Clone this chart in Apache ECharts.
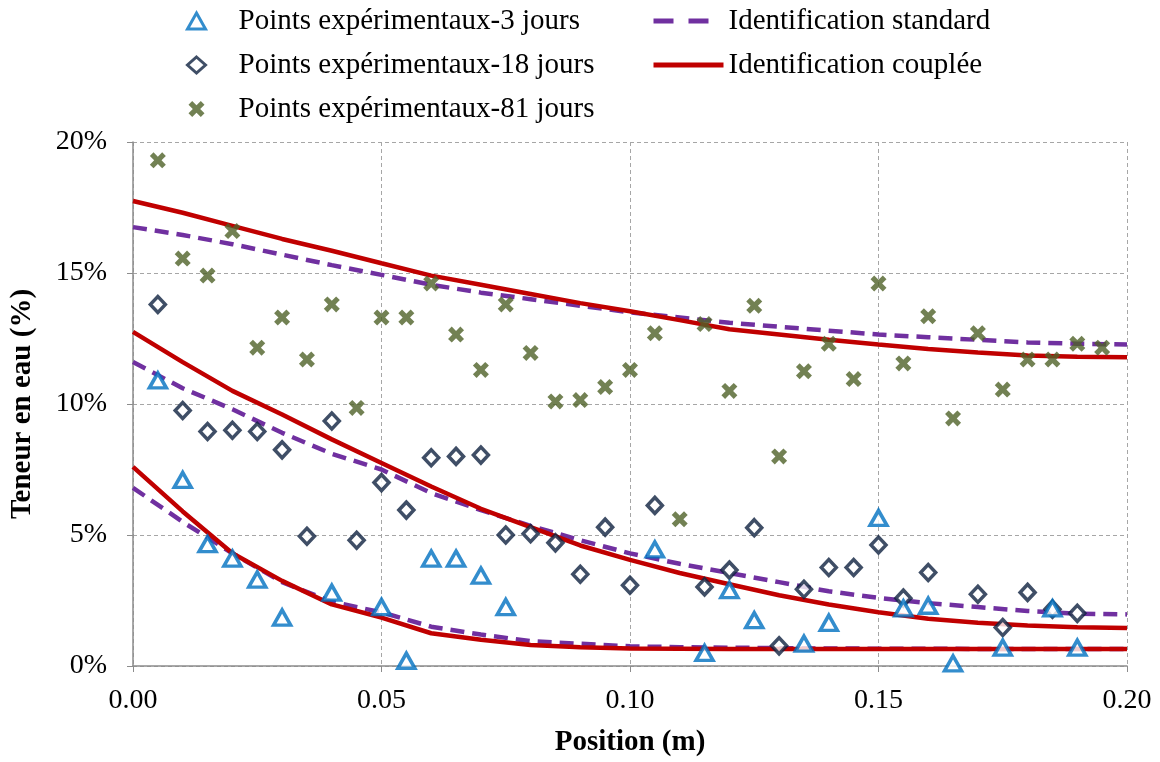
<!DOCTYPE html>
<html>
<head>
<meta charset="utf-8">
<script src="https://cdn.jsdelivr.net/npm/echarts@6/dist/echarts.min.js"></script>
<style>
  html, body { margin: 0; padding: 0; background: #fff; }
  #chart { width: 1160px; height: 762px; }
</style>
</head>
<body>
<div id="chart"></div>
<script>
// === DONNÉES ===
const pos3 = [0.005, 0.01, 0.015, 0.02, 0.025, 0.03, 0.04, 0.05, 0.055, 0.06, 0.065, 0.07, 0.075,
  0.105, 0.115, 0.12, 0.125, 0.135, 0.14, 0.15, 0.155, 0.16, 0.165, 0.175, 0.185, 0.19];
const val3 = [10.9, 7.1, 4.65, 4.1, 3.3, 1.85, 2.8, 2.25, 0.2, 4.1, 4.1, 3.45, 2.25,
  4.45, 0.5, 2.9, 1.75, 0.85, 1.65, 5.65, 2.2, 2.3, 0.1, 0.7, 2.2, 0.7];

const pos18 = [0.005, 0.01, 0.015, 0.02, 0.025, 0.03, 0.035, 0.04, 0.045, 0.05, 0.055, 0.06, 0.065,
  0.07, 0.075, 0.08, 0.085, 0.09, 0.095, 0.10, 0.105, 0.115, 0.12, 0.125, 0.13, 0.135, 0.14,
  0.145, 0.15, 0.155, 0.16, 0.17, 0.175, 0.18, 0.185, 0.19];
const val18 = [13.8, 9.75, 8.95, 9.0, 8.95, 8.25, 4.95, 9.35, 4.8, 7.0, 5.95, 7.95, 8.0,
  8.05, 5.0, 5.05, 4.7, 3.5, 5.3, 3.08, 6.13, 3.02, 3.66, 5.28, 0.77, 2.93, 3.76,
  3.76, 4.62, 2.59, 3.57, 2.74, 1.47, 2.81, 2.17, 2.01];

const pos81 = [0.005, 0.01, 0.015, 0.02, 0.025, 0.03, 0.035, 0.04, 0.045, 0.05, 0.055, 0.06, 0.065,
  0.07, 0.075, 0.08, 0.085, 0.09, 0.095, 0.10, 0.105, 0.11, 0.115, 0.12, 0.125, 0.13,
  0.135, 0.14, 0.145, 0.15, 0.155, 0.16, 0.165, 0.17, 0.175, 0.18, 0.185, 0.19, 0.195];
const val81 = [19.3, 15.55, 14.9, 16.6, 12.15, 13.3, 11.7, 13.8, 9.85, 13.3, 13.3, 14.6, 12.65,
  11.3, 13.8, 11.95, 10.1, 10.15, 10.65, 11.3, 12.7, 5.6, 13.05, 10.5, 13.75, 8.0,
  11.25, 12.3, 10.95, 14.6, 11.55, 13.35, 9.45, 12.7, 10.55, 11.7, 11.7, 12.3, 12.15];

// courbes identifiées
const lineX = [0, 0.01, 0.02, 0.03, 0.04, 0.05, 0.06, 0.07, 0.08, 0.09, 0.10,
  0.11, 0.12, 0.13, 0.14, 0.15, 0.16, 0.17, 0.18, 0.19, 0.20];
const std3 = [6.8, 5.5, 4.3, 3.2, 2.45, 2.05, 1.5, 1.2, 0.95, 0.85, 0.75, 0.72, 0.7, 0.68, 0.67, 0.66, 0.66, 0.65, 0.65, 0.65, 0.65];
const cpl3 = [7.6, 5.9, 4.3, 3.25, 2.35, 1.85, 1.25, 1.0, 0.8, 0.72, 0.67, 0.66, 0.65, 0.65, 0.65, 0.65, 0.65, 0.65, 0.65, 0.65, 0.65];
const std18 = [11.6, 10.6, 9.8, 8.9, 8.1, 7.5, 6.6, 5.95, 5.35, 4.8, 4.3, 3.9, 3.55, 3.2, 2.85, 2.6, 2.4, 2.25, 2.1, 2.0, 1.97];
const cpl18 = [12.75, 11.6, 10.5, 9.6, 8.65, 7.75, 6.85, 6.0, 5.3, 4.6, 4.05, 3.55, 3.12, 2.7, 2.35, 2.05, 1.8, 1.65, 1.55, 1.48, 1.45];
const std81 = [16.75, 16.45, 16.1, 15.7, 15.3, 14.93, 14.55, 14.25, 14.0, 13.75, 13.5, 13.3, 13.1, 12.95, 12.8, 12.65, 12.55, 12.45, 12.35, 12.3, 12.27];
const cpl81 = [17.75, 17.3, 16.8, 16.3, 15.85, 15.37, 14.9, 14.55, 14.2, 13.85, 13.54, 13.2, 12.85, 12.65, 12.45, 12.27, 12.1, 11.97, 11.85, 11.8, 11.78];

const names = {
  p3: 'Points expérimentaux-3 jours',
  p18: 'Points expérimentaux-18 jours',
  p81: 'Points expérimentaux-81 jours',
  std: 'Identification standard',
  cpl: 'Identification couplée'
};

// === STYLE ===
const FONT = "'Times New Roman', 'Liberation Serif', serif";
const PURPLE = '#7030a0';
const RED = '#c00000';
const crossPath = 'path://M0,2.3 L2.3,0 L5,2.7 L7.7,0 L10,2.3 L7.3,5 L10,7.7 L7.7,10 L5,7.3 L2.3,10 L0,7.7 L2.7,5 Z';

function pairs(xs, ys) {
  return xs.map((x, i) => [x, ys[i]]);
}

function curve(name, ys, color, dashed) {
  return {
    name: name,
    type: 'line',
    data: pairs(lineX, ys),
    symbol: 'none',
    silent: true,
    z: dashed ? 2 : 3,
    lineStyle: { color: color, width: 4.5, type: dashed ? [14, 8] : 'solid' },
    itemStyle: { color: color }
  };
}

const chart = echarts.init(document.getElementById('chart'));

chart.setOption({
  animation: false,
  backgroundColor: '#fff',
  textStyle: { fontFamily: FONT },
  legend: [
    {
      data: [names.p3, names.p18, names.p81],
      orient: 'vertical',
      left: 181,
      top: 1,
      itemWidth: 18,
      itemHeight: 16,
      itemGap: 14,
      itemStyle: { borderWidth: 3 },
      textStyle: { fontFamily: FONT, fontSize: 29, lineHeight: 30, color: '#000', padding: [0, 0, 0, 28] }
    },
    {
      data: [
        { name: names.std, lineStyle: { type: [20, 15], width: 5 } },
        { name: names.cpl }
      ],
      orient: 'vertical',
      left: 646,
      top: 1,
      itemWidth: 70,
      itemHeight: 16,
      itemGap: 14,
      itemStyle: { opacity: 0 },
      lineStyle: { width: 5 },
      textStyle: { fontFamily: FONT, fontSize: 29, lineHeight: 30, color: '#000' }
    }
  ],
  grid: { left: 133, right: 33, top: 142, bottom: 95 },
  xAxis: {
    type: 'value',
    min: 0,
    max: 0.2,
    interval: 0.05,
    name: 'Position (m)',
    nameLocation: 'middle',
    nameGap: 62,
    nameTextStyle: { fontFamily: FONT, fontSize: 29, fontWeight: 'bold', color: '#000' },
    axisLine: { show: true, lineStyle: { color: '#8c8c8c', width: 1.5 } },
    axisTick: { show: true, length: 6, lineStyle: { color: '#8c8c8c' } },
    axisLabel: {
      margin: 21,
      fontFamily: FONT, fontSize: 28, color: '#000',
      formatter: v => v.toFixed(2)
    },
    splitLine: { show: true, lineStyle: { color: '#a6a6a6', type: [4, 3], width: 1 } }
  },
  yAxis: {
    type: 'value',
    min: 0,
    max: 20,
    interval: 5,
    name: 'Teneur en eau (%)',
    nameLocation: 'middle',
    nameGap: 96,
    nameTextStyle: { fontFamily: FONT, fontSize: 29, fontWeight: 'bold', color: '#000' },
    axisLine: { show: true, lineStyle: { color: '#8c8c8c', width: 1.5 } },
    axisTick: { show: true, length: 6, lineStyle: { color: '#8c8c8c' } },
    axisLabel: {
      margin: 26,
      fontFamily: FONT, fontSize: 28, color: '#000',
      formatter: '{value}%'
    },
    splitLine: { show: true, lineStyle: { color: '#a6a6a6', type: [4, 3], width: 1 } }
  },
  series: [
    curve(names.std, std81, PURPLE, true),
    curve(names.std, std18, PURPLE, true),
    curve(names.std, std3, PURPLE, true),
    curve(names.cpl, cpl81, RED, false),
    curve(names.cpl, cpl18, RED, false),
    curve(names.cpl, cpl3, RED, false),
    {
      name: names.p81,
      type: 'scatter',
      data: pairs(pos81, val81),
      symbol: crossPath,
      symbolSize: 16,
      z: 4,
      itemStyle: { color: '#4f6228' }
    },
    {
      name: names.p18,
      type: 'scatter',
      data: pairs(pos18, val18),
      symbol: 'diamond',
      symbolSize: [15, 16],
      z: 5,
      itemStyle: { color: '#fff', borderColor: '#0f2240', borderWidth: 3.5 }
    },
    {
      name: names.p3,
      type: 'scatter',
      data: pairs(pos3, val3),
      symbol: 'triangle',
      symbolSize: [17, 15],
      z: 6,
      itemStyle: { color: '#fff', borderColor: '#0070c0', borderWidth: 3.5 }
    }
  ]
});

window.addEventListener('resize', function () {
  chart.resize();
});
</script>
</body>
</html>
